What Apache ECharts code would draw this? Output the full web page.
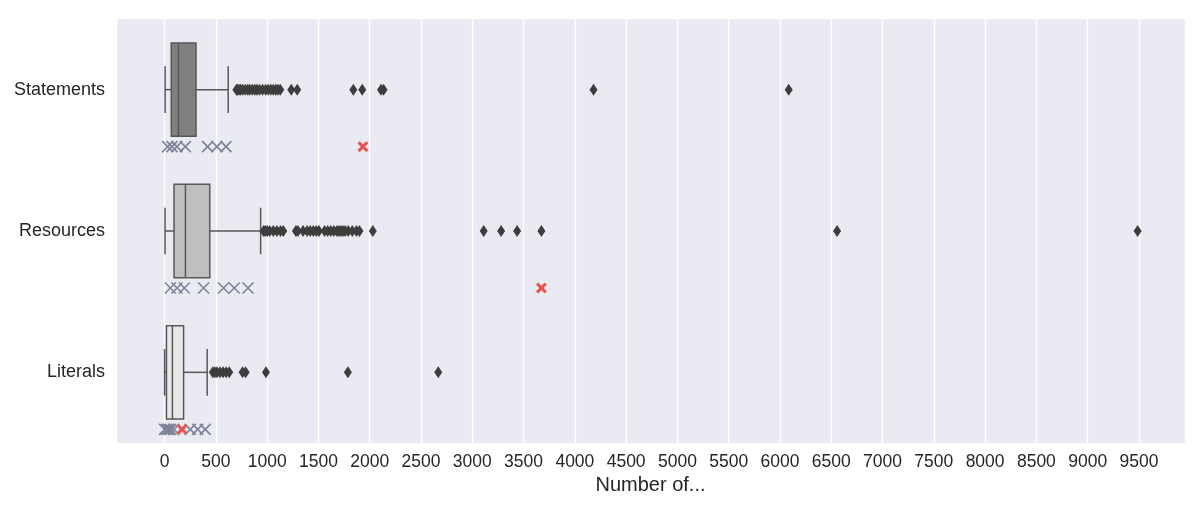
<!DOCTYPE html>
<html>
<head>
<meta charset="utf-8">
<script src="https://cdn.jsdelivr.net/npm/echarts@6/dist/echarts.min.js"></script>
<style>
  html, body { margin: 0; padding: 0; background: #fff; }
  #chart { width: 1200px; height: 508px; }
</style>
</head>
<body>
<div id="chart"></div>
<script>
var categories = ['Statements', 'Resources', 'Literals'];

// min, Q1, median, Q3, upper whisker
var boxStatements = [5, 65, 134, 306, 620];
var boxResources = [4, 92, 203, 440, 936];
var boxLiterals = [0, 18, 76, 185, 415];

var fliersStatements = [700, 712, 725, 740, 760, 785, 810, 830, 855, 880, 900, 925, 955, 985, 1010, 1035, 1060, 1085, 1105, 1128, 1235, 1293, 1840, 1927, 2110, 2135, 4182, 6085];
var fliersResources = [965, 980, 1000, 1025, 1060, 1095, 1130, 1157, 1280, 1300, 1350, 1390, 1420, 1450, 1480, 1505, 1560, 1590, 1620, 1650, 1680, 1700, 1720, 1740, 1760, 1790, 1830, 1870, 1900, 2030, 3111, 3281, 3437, 3674, 6557, 9487];
var fliersLiterals = [470, 490, 510, 540, 570, 600, 630, 760, 790, 988, 1787, 2668];

// small cross marks under each box, plus one highlighted value
var marksStatements = [30, 72, 120, 202, 419, 510, 598];
var marksResources = [56, 121, 192, 380, 575, 679, 813];
var marksLiterals = [0, 20, 40, 60, 90, 250, 322, 396];
var highlight = [1934, 3674, 170];

var boxFill = ['#808080', '#bfbfbf', '#e8e8e8'];

var boxes = [boxStatements, boxResources, boxLiterals];
var fliers = [fliersStatements, fliersResources, fliersLiterals];
var marks = [marksStatements, marksResources, marksLiterals];

function pairs(list, cat) {
    return list.map(function (v) { return [v, cat]; });
}

var flierData = [], markData = [], highData = [], boxData = [];
categories.forEach(function (c, i) {
    flierData = flierData.concat(pairs(fliers[i], c));
    markData = markData.concat(pairs(marks[i], c));
    highData.push([highlight[i], c]);
    boxData.push([i].concat(boxes[i]));
});

var edge = '#575757';

function renderBox(params, api) {
    var cat = api.value(0);
    var pt = function (k) { return api.coord([api.value(k), cat]); };
    var lo = pt(1), q1 = pt(2), med = pt(3), q3 = pt(4), hi = pt(5);
    var y = lo[1];
    var h = api.size([0, 1])[1] * 0.66;
    var cap = h / 4;
    var ls = { stroke: edge, lineWidth: 1.5 };
    return {
        type: 'group',
        children: [
            { type: 'line', shape: { x1: lo[0], y1: y, x2: q1[0], y2: y }, style: ls },
            { type: 'line', shape: { x1: q3[0], y1: y, x2: hi[0], y2: y }, style: ls },
            { type: 'line', shape: { x1: lo[0], y1: y - cap, x2: lo[0], y2: y + cap }, style: ls },
            { type: 'line', shape: { x1: hi[0], y1: y - cap, x2: hi[0], y2: y + cap }, style: ls },
            { type: 'rect', shape: { x: q1[0], y: y - h / 2, width: q3[0] - q1[0], height: h },
              style: { fill: boxFill[params.dataIndex], stroke: edge, lineWidth: 1.5 } },
            { type: 'line', shape: { x1: med[0], y1: y - h / 2, x2: med[0], y2: y + h / 2 }, style: ls }
        ]
    };
}

var chart = echarts.init(document.getElementById('chart'));

var option = {
    backgroundColor: '#ffffff',
    animation: false,
    grid: { left: 116, right: 15, top: 19, bottom: 65, backgroundColor: '#eaeaf2', show: true, borderWidth: 0 },
    xAxis: {
        type: 'value',
        min: -474,
        max: 9949,
        splitNumber: 20,
        name: 'Number of...',
        nameLocation: 'middle',
        nameGap: 29,
        nameTextStyle: { fontFamily: 'Liberation Sans', fontSize: 20, color: '#262626' },
        axisLine: { show: false },
        axisTick: { show: false },
        axisLabel: {
            fontFamily: 'Liberation Sans', fontSize: 17.5, color: '#262626',
            margin: 10, showMinLabel: false, showMaxLabel: false,
            formatter: function (v) { return String(v); }
        },
        splitLine: { show: true, lineStyle: { color: '#ffffff', width: 1.3 } }
    },
    yAxis: {
        type: 'category',
        data: categories,
        inverse: true,
        axisLine: { show: false },
        axisTick: { show: false },
        axisLabel: { fontFamily: 'Liberation Sans', fontSize: 18, color: '#262626', margin: 11 },
        splitLine: { show: false }
    },
    series: [
        {
            type: 'custom',
            renderItem: renderBox,
            encode: { x: [1, 2, 3, 4, 5], y: 0 },
            data: boxData,
            z: 2
        },
        {
            type: 'scatter',
            symbol: 'diamond',
            symbolSize: [8, 12],
            itemStyle: { color: '#3d3d3d', opacity: 1 },
            data: flierData,
            z: 3
        },
        {
            type: 'scatter',
            symbol: 'path://M0 0L10 10M10 0L0 10',
            symbolSize: 11,
            symbolOffset: [0, 57],
            itemStyle: { color: 'rgba(0,0,0,0)', borderColor: '#7e8399', borderWidth: 1.6, opacity: 1 },
            data: markData,
            z: 3
        },
        {
            type: 'scatter',
            symbol: 'path://M2 0L5 3L8 0L10 2L7 5L10 8L8 10L5 7L2 10L0 8L3 5L0 2Z',
            symbolSize: 11,
            symbolOffset: [0, 57],
            itemStyle: { color: '#e8534f', opacity: 1 },
            data: highData,
            z: 4
        }
    ]
};

chart.setOption(option);
</script>
</body>
</html>
